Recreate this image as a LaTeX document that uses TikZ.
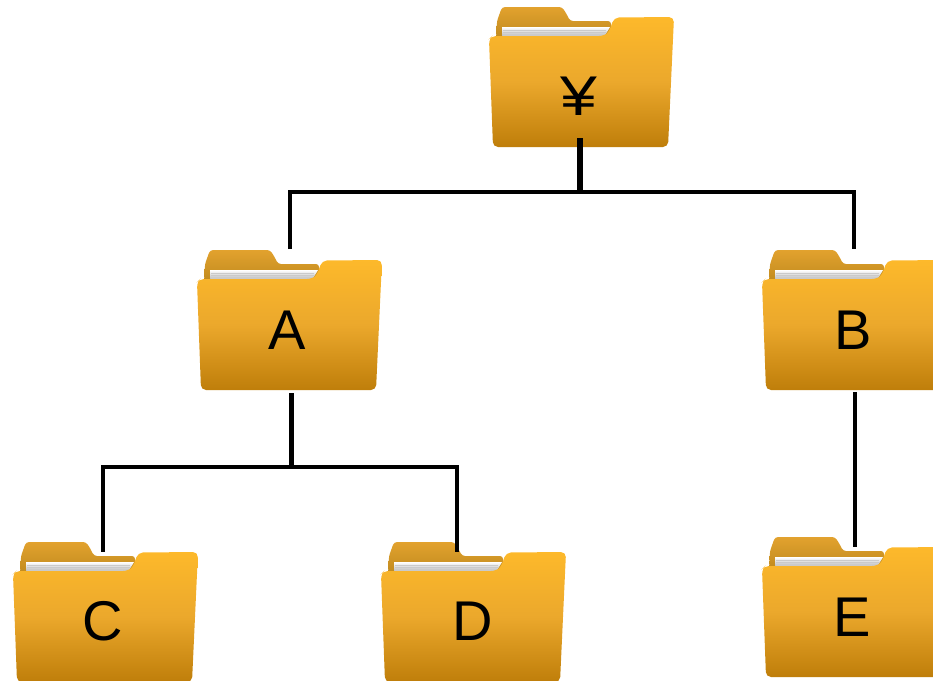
\documentclass[tikz,border=0pt]{standalone}
\usepackage{fontspec}
\setmainfont{Liberation Sans}
\tikzset{
	trunk/.style={line width=5.5pt,black},
	branch/.style={line width=4.5pt,black},
	folderbody/.style={minimum width=185pt,minimum height=130pt,inner sep=0},
	folderlabel/.style={anchor=base,inner sep=0,font=\fontsize{56}{60}\selectfont},
	folder/.pic={
		% back flap with its tab
		\path[rounded corners=3pt,top color=tabtop,bottom color=tabbottom]
			(7,32) -- (8,14) -- (13,0) -- (73,0) -- (77,6) -- (81,14) -- (122,14) -- (122,32) -- cycle;
		% paper
		\path[top color=white,bottom color=papergray] (13,20) -- (121,20) -- (115,30) -- (13,30) -- cycle;
		\foreach \rule in {23,25.5,28}
			\draw[papergray!70,line width=.6pt] (14,\rule) -- (117,\rule);
		% front
		\path[rounded corners=5pt,top color=foldertop,bottom color=folderbottom,middle color=foldermid]
			(0,32) -- (3,29) -- (115,29) -- (120,25) -- (125,10.5) -- (185,10) -- (179,140) -- (4,140) -- cycle;
		\node[folderbody] (-body) at (92.5,75) {};
	}
}
\definecolor{foldertop}{HTML}{FDB92B}
\definecolor{foldermid}{HTML}{EBA82C}
\definecolor{folderbottom}{HTML}{BF7E0A}
\definecolor{tabtop}{HTML}{E2A22E}
\definecolor{tabbottom}{HTML}{C08A1E}
\definecolor{papergray}{HTML}{B4B4B4}
\begin{document}
\begin{tikzpicture}[x=1pt,y=-1pt]
\useasboundingbox (0,0) rectangle (933,680);
\clip (0,0) rectangle (933,680);
\pic (root) at (489,7) {folder};
\pic (A) at (197,250) {folder};
\pic (B) at (762,250) {folder};
\pic (C) at (13,542) {folder};
\pic (D) at (381,542) {folder};
\pic (E) at (762,537) {folder};
\node[folderlabel,xscale=1.18] (yen) at (579,115) {¥};
\node[folderlabel] (a) at (287,349) {A};
\node[folderlabel] (b) at (853,349) {B};
\node[folderlabel] (c) at (103,640) {C};
\node[folderlabel] (d) at (473,640) {D};
\node[folderlabel] (e) at (852,636) {E};
\coordinate (rootjoin) at (580,192);
\coordinate (Ajoin) at (291.5,467);
\coordinate (Aend) at (290,249);
\coordinate (Bend) at (854,249);
\draw[trunk] ([yshift=9pt]root-body.south -| rootjoin) -- (rootjoin);
\draw[branch] (Aend) |- (rootjoin) -| (Bend);
\draw[trunk] ([yshift=-3pt]A-body.south -| Ajoin) -- (Ajoin);
\draw[branch] (C-body.north -| 103,0) |- (Ajoin) -| (D-body.north -| 457,0);
\draw[branch] ([yshift=-2pt]B-body.south -| 855,0) -- (E-body.north -| 855,0);
\end{tikzpicture}
\end{document}
